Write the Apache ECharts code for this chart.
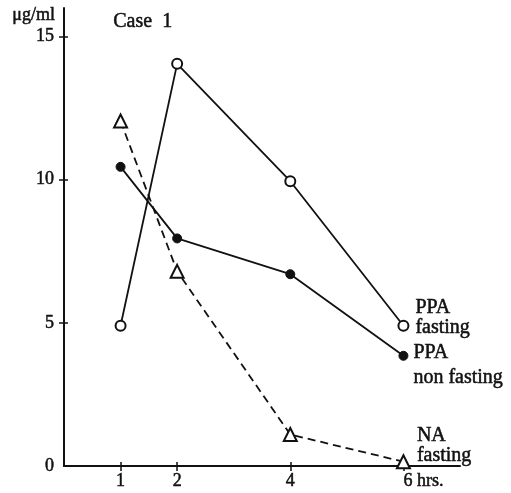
<!DOCTYPE html>
<html><head><meta charset="utf-8">
<script src="https://cdn.jsdelivr.net/npm/echarts@6/dist/echarts.min.js"></script>
<style>html,body{margin:0;padding:0;background:#fff}#c{width:511px;height:493px}</style>
</head><body><div id="c"></div>
<script>
const hours = [1, 2, 4, 6];
const xTickLabels = {1: '1', 2: '2', 4: '4', 6: '6 hrs.'};
const yTicks = [5, 10, 15];
const yTickLabels = [0, 5, 10, 15];
const ppaFasting = [4.9, 14.05, 9.95, 4.9];
const ppaNonFasting = [10.45, 7.95, 6.7, 3.85];
const naFasting = [12.05, 6.8, 1.1, 0.15];
const seriesNames = ['PPA\nfasting', 'PPA\nnon fasting', 'NA\nfasting'];

const font = '"Liberation Serif", "DejaVu Serif", serif';
const ink = '#111';
const txt = {color: ink, fontFamily: font, fontWeight: 'normal', textBorderColor: ink, textBorderWidth: 0.5};
const chart = echarts.init(document.getElementById('c'));
function pts(vals){ return hours.map((h,i)=>[h, vals[i]]); }
function withLabel(vals, text, offset, lh){
  const d = pts(vals);
  d[d.length-1] = {value: d[d.length-1], label: Object.assign({show: true, formatter: text, position: 'right', offset: offset,
    fontSize: 20, lineHeight: lh, align: 'left'}, txt)};
  return d;
}
const common = {type: 'line', lineStyle: {color: ink, width: 1.8}, itemStyle: {color: ink}, animation: false};
chart.setOption({
  backgroundColor: '#fff',
  grid: {left: 64, right: 51, top: 8, bottom: 27},
  xAxis: [{
    type: 'value', min: 0, max: 7,
    axisLine: {lineStyle: {color: ink, width: 2}},
    axisTick: {show: true, customValues: hours, length: 5, lineStyle: {color: ink, width: 1.5}},
    axisLabel: Object.assign({customValues: hours,
      formatter: v => v === 6 ? '{h|' + xTickLabels[v] + '}' : (xTickLabels[v] || ''),
      rich: {h: Object.assign({fontSize: 18, padding: [0, 0, 0, 40]}, txt)},
      fontSize: 18, margin: 6}, txt),
    splitLine: {show: false}
  }, {
    type: 'value', min: 0, max: 7, position: 'bottom',
    axisLine: {show: false},
    axisTick: {show: true, inside: true, customValues: hours, length: 4, lineStyle: {color: ink, width: 1.5}},
    axisLabel: {show: false}, splitLine: {show: false}
  }],
  yAxis: [{
    type: 'value', min: 0, max: 16,
    name: 'μg/ml', nameLocation: 'end', nameGap: -16,
    nameTextStyle: Object.assign({fontSize: 18, align: 'right', padding: [0, 9, 0, 0]}, txt),
    axisLine: {lineStyle: {color: ink, width: 2}},
    axisTick: {show: true, customValues: yTicks, length: 5, lineStyle: {color: ink, width: 1.5}},
    axisLabel: Object.assign({customValues: yTickLabels, fontSize: 18, margin: 10}, txt),
    splitLine: {show: false}
  }, {
    type: 'value', min: 0, max: 16, position: 'left',
    axisLine: {show: false},
    axisTick: {show: true, inside: true, customValues: yTicks, length: 4, lineStyle: {color: ink, width: 1.5}},
    axisLabel: {show: false}, splitLine: {show: false}
  }],
  graphic: [{type: 'text', left: 113, top: 11, style: {text: 'Case  1', font: '20px ' + font, fill: ink, stroke: ink, lineWidth: 0.5}}],
  series: [
    Object.assign({}, common, {name: seriesNames[0], data: withLabel(ppaFasting, seriesNames[0], [1, -8], 20),
      symbol: 'circle', symbolSize: 10, itemStyle: {color: '#fff', borderColor: ink, borderWidth: 2}}),
    Object.assign({}, common, {name: seriesNames[1], data: withLabel(ppaNonFasting, seriesNames[1], [0, 9], 25),
      symbol: 'circle', symbolSize: 9, itemStyle: {color: ink, borderColor: ink, borderWidth: 1}}),
    Object.assign({}, common, {name: seriesNames[2], data: withLabel(naFasting, seriesNames[2], [1, -16], 20),
      symbol: 'triangle', symbolSize: 13, lineStyle: {color: ink, width: 1.8, type: [8, 5]},
      itemStyle: {color: '#fff', borderColor: ink, borderWidth: 2}})
  ]
});
</script></body></html>
